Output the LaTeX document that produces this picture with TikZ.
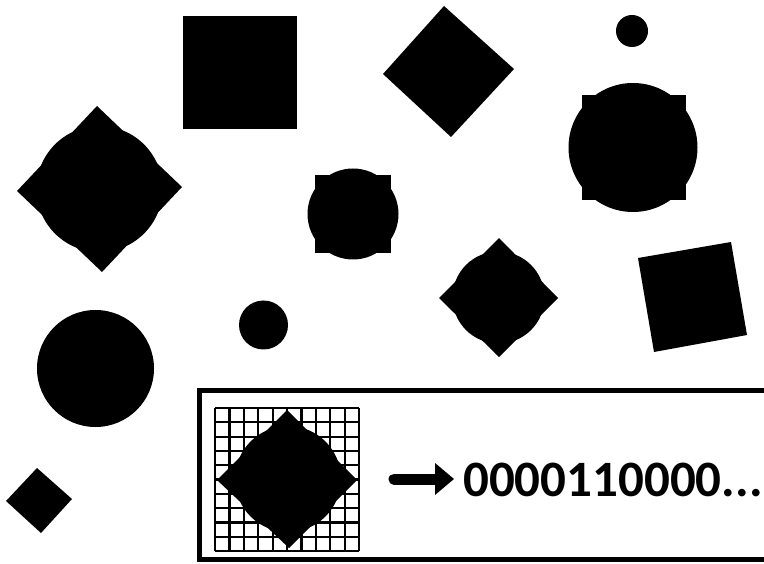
\documentclass[tikz,border=0pt]{standalone}
\usepackage{fontspec}
\setmainfont{Carlito}
\begin{document}
\begin{tikzpicture}[x=1pt,y=-1pt,
  blob/.style={fill=black},
  gridline/.style={draw=black,line width=2.2pt},
  frame/.style={draw=black,line width=5pt},
  codetext/.style={font=\bfseries\fontsize{51}{60}\selectfont,inner sep=0pt,anchor=base west}]
\useasboundingbox (0,0) rectangle (764,564);
% top square
\fill[blob] (183,16) rectangle (297,129);
% top diamond
\fill[blob] (444,6) -- (383,74) -- (451,137) -- (514,69) -- cycle;
% small top circle
\fill[blob] (632,31) circle (16);
% right circle-square
\fill[blob] (582,95) rectangle (686,200);
\fill[blob] (633,147.5) circle (64.5);
% left big diamond-circle
\fill[blob] (97,106) -- (17,191) -- (102,272) -- (182,187) -- cycle;
\fill[blob] (99.5,189) circle (63);
% middle circle-square
\fill[blob] (315,175) rectangle (391,253);
\fill[blob] (353,214) circle (45.5);
% middle-right diamond-circle
\fill[blob] (499,238) -- (439,298) -- (499,357) -- (558,298) -- cycle;
\fill[blob] (498.5,297.5) circle (46);
% right rotated square
\fill[blob] (638,258) -- (731,242) -- (747,335) -- (654,352) -- cycle;
% bottom-left circle
\fill[blob] (95.5,368.5) circle (58.5);
% small circle
\fill[blob] (263.5,325) circle (24.5);
% small diamond
\fill[blob] (37,468) -- (6,501) -- (41,533) -- (72,499) -- cycle;
% panel
\begin{scope}
\clip (0,0) rectangle (764,564);
\draw[frame] (199.5,390.5) rectangle (790,559.5);
\end{scope}
% grid
\foreach \i in {0,...,10} {
  \draw[gridline] ({215+14.4*\i},408) -- ({215+14.4*\i},551);
  \draw[gridline] (215,{408+14.3*\i}) -- (359,{408+14.3*\i});
}
\fill[blob] (287,410) -- (217,480) -- (289,548) -- (357,480) -- cycle;
\fill[blob] (288,479) circle (53);
% arrow and code
\node[codetext] (code) at (463,496) {0000110000...};
\coordinate (astart) at (394,479);
\coordinate (abase) at (438,479);
\draw[line width=11pt,line cap=round] (astart) -- (abase);
\fill[blob] (435,463) -- (454,479) -- (435,495) -- cycle;
\end{tikzpicture}
\end{document}
